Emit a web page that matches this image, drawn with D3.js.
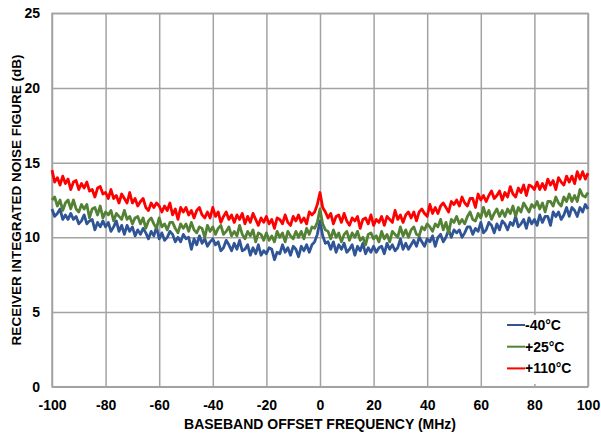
<!DOCTYPE html>
<html>
<head>
<meta charset="utf-8">
<script src="https://cdn.jsdelivr.net/npm/d3@7"></script>
<style>
  html, body { margin: 0; padding: 0; background: #fff; }
  svg { display: block; font-family: "Liberation Sans", Arial, sans-serif; font-weight: bold; }
</style>
</head>
<body>
<svg id="chart" width="601" height="434"></svg>
<script>
// Frequency axis: -100 .. 100 MHz, one sample per MHz
const freqStart = -100;
const freqStep = 1;

const xTicks = [-100, -80, -60, -40, -20, 0, 20, 40, 60, 80, 100];
const yTicks = [0, 5, 10, 15, 20, 25];

const seriesNames = ["-40°C", "+25°C", "+110°C"];
const seriesColors = ["#2f5597", "#548235", "#ff0000"];

// Integrated noise figure (dB), -40°C
const nfMinus40 = [
  11.9, 11.4, 11.6, 11.9, 11.2, 11.5, 11.2, 11.6, 11.2, 11.4,
  10.9, 11.1, 11.5, 10.9, 11.1, 11.2, 10.5, 11.0, 10.7, 11.1,
  10.7, 11.0, 10.4, 10.7, 11.1, 10.4, 10.8, 10.2, 10.8, 10.4,
  10.7, 10.1, 10.5, 10.2, 10.6, 10.3, 9.9, 10.4, 10.1, 10.7,
  9.9, 10.3, 9.8, 10.0, 10.4, 10.2, 9.7, 10.0, 9.7, 10.2,
  9.9, 10.0, 9.2, 9.9, 9.5, 10.1, 9.6, 9.9, 9.4, 9.7,
  9.9, 9.5, 9.7, 9.1, 9.3, 9.8, 9.5, 9.1, 9.6, 9.2,
  9.8, 9.1, 9.2, 9.5, 8.8, 9.3, 8.9, 9.5, 8.8, 9.1,
  8.9, 9.3, 9.2, 8.5, 9.0, 8.9, 9.5, 9.0, 9.3, 8.8,
  9.4, 9.2, 8.7, 9.4, 9.1, 9.5, 9.0, 9.5, 9.7, 10.2,
  11.1,
  10.1, 9.6, 9.7, 9.2, 9.7, 9.0, 9.5, 9.2, 9.6, 9.0,
  9.2, 9.5, 8.8, 9.4, 9.1, 9.6, 8.9, 9.3, 9.0, 9.4,
  9.0, 9.3, 9.4, 8.9, 9.6, 9.2, 9.5, 9.1, 9.3, 9.9,
  9.2, 9.6, 9.2, 9.5, 9.8, 9.4, 10.0, 9.7, 9.4, 9.9,
  9.7, 10.1, 9.4, 10.0, 10.2, 9.7, 10.0, 10.5, 10.0, 10.5,
  10.3, 10.5, 10.0, 10.3, 10.7, 10.7, 10.2, 10.6, 10.4, 11.0,
  10.3, 10.5, 11.0, 10.8, 10.3, 10.9, 10.5, 11.1, 10.9, 10.5,
  11.0, 10.8, 11.4, 10.7, 10.9, 11.2, 10.6, 11.3, 10.9, 11.2,
  10.8, 11.5, 11.0, 11.4, 11.4, 10.8, 11.7, 11.4, 11.7, 11.2,
  11.5, 12.0, 11.4, 12.0, 11.8, 11.4, 12.0, 11.7, 12.2, 11.9
];

// Integrated noise figure (dB), +25°C
const nfPlus25 = [
  12.5, 12.7, 12.1, 12.5, 11.8, 12.3, 12.5, 11.9, 12.5, 11.9,
  11.7, 12.2, 11.9, 12.2, 11.3, 11.9, 12.0, 11.5, 12.1, 11.3,
  11.7, 11.5, 11.8, 11.1, 11.6, 11.4, 11.2, 11.8, 11.2, 11.4,
  10.9, 11.3, 11.4, 10.9, 11.3, 10.6, 11.1, 11.3, 10.9, 10.6,
  11.3, 10.7, 10.9, 10.5, 11.0, 11.0, 10.6, 10.3, 10.9, 10.6,
  10.9, 10.4, 11.0, 10.5, 10.3, 10.7, 10.6, 10.0, 10.8, 10.4,
  10.7, 10.2, 10.6, 10.8, 10.2, 10.4, 10.7, 10.1, 10.4, 10.1,
  10.8, 10.2, 9.9, 10.4, 10.1, 10.5, 9.7, 10.3, 10.2, 9.8,
  10.3, 9.8, 10.1, 9.7, 10.4, 10.0, 10.3, 9.7, 10.4, 10.1,
  9.9, 10.4, 10.0, 10.4, 9.9, 10.6, 10.2, 10.7, 10.6, 11.0,
  11.9,
  10.9, 10.5, 10.4, 9.9, 10.5, 10.0, 10.3, 9.7, 10.2, 10.4,
  9.8, 10.3, 10.0, 10.4, 9.8, 10.0, 9.5, 10.2, 10.3, 9.9,
  10.1, 9.7, 10.4, 9.9, 10.2, 9.7, 10.4, 10.2, 10.0, 10.7,
  10.1, 10.5, 10.0, 10.5, 10.7, 10.2, 10.1, 10.7, 10.5, 10.9,
  10.7, 10.4, 10.9, 10.7, 11.2, 10.5, 11.0, 10.3, 11.2, 11.0,
  11.4, 10.9, 11.2, 10.9, 11.4, 11.7, 11.2, 11.1, 11.6, 11.3,
  12.0, 11.4, 11.8, 11.2, 11.6, 11.9, 11.4, 11.8, 11.4, 11.9,
  11.6, 12.1, 11.4, 12.0, 11.7, 12.3, 12.0, 11.7, 12.2, 12.0,
  12.4, 11.9, 12.3, 11.7, 12.4, 12.4, 12.1, 12.7, 12.3, 12.1,
  12.7, 12.4, 12.9, 12.4, 12.8, 12.4, 13.2, 12.8, 12.7, 13.0
];

// Integrated noise figure (dB), +110°C
const nfPlus110 = [
  14.5, 13.7, 14.0, 13.5, 14.1, 13.6, 13.9, 13.2, 13.7, 13.8,
  13.2, 13.6, 13.3, 13.7, 13.1, 13.2, 12.7, 13.3, 13.4, 12.9,
  13.0, 12.6, 13.2, 12.6, 12.8, 12.3, 12.9, 12.6, 12.3, 13.0,
  12.3, 12.6, 12.1, 12.4, 12.6, 12.0, 11.8, 12.3, 12.0, 12.3,
  12.1, 11.7, 12.1, 11.8, 12.3, 11.5, 11.9, 11.2, 12.0, 11.7,
  12.0, 11.5, 11.8, 11.3, 11.8, 12.0, 11.5, 11.3, 11.7, 11.3,
  12.0, 11.4, 11.7, 11.0, 11.4, 11.7, 11.2, 11.5, 11.0, 11.5,
  11.2, 11.6, 10.9, 11.4, 11.0, 11.6, 11.2, 10.8, 11.3, 11.0,
  11.4, 10.9, 11.2, 10.6, 11.3, 11.2, 10.9, 11.5, 11.0, 10.8,
  11.4, 11.1, 11.5, 11.0, 11.3, 10.9, 11.7, 11.5, 11.7, 12.2,
  13.0,
  12.0, 11.7, 11.3, 11.6, 10.9, 11.4, 11.5, 11.0, 11.6, 11.1,
  10.8, 11.3, 11.1, 11.4, 10.6, 11.2, 11.3, 10.9, 11.5, 10.8,
  11.2, 11.0, 11.4, 10.8, 11.4, 11.2, 11.0, 11.8, 11.2, 11.5,
  11.0, 11.5, 11.7, 11.3, 11.7, 11.1, 11.7, 11.9, 11.6, 11.4,
  12.2, 11.6, 12.0, 11.6, 12.1, 12.3, 12.0, 11.7, 12.4, 12.2,
  12.5, 12.1, 12.7, 12.3, 12.1, 12.6, 12.6, 12.0, 12.9, 12.5,
  12.8, 12.4, 12.8, 13.1, 12.6, 12.8, 13.1, 12.5, 13.0, 12.7,
  13.4, 12.9, 12.7, 13.3, 13.0, 13.5, 12.8, 13.5, 13.4, 13.2,
  13.7, 13.2, 13.6, 13.2, 13.9, 13.5, 13.8, 13.2, 14.0, 13.7,
  13.5, 14.1, 13.7, 14.1, 13.6, 14.4, 13.9, 14.4, 13.9, 14.3
];

const seriesValues = [nfMinus40, nfPlus25, nfPlus110];

const svg = d3.select("#chart");
const plot = { left: 52, right: 588, top: 13.3, bottom: 386.7 };

const x = d3.scaleLinear().domain([-100, 100]).range([plot.left, plot.right]);
const y = d3.scaleLinear().domain([0, 25]).range([plot.bottom, plot.top]);

const gridColor = "#a3a3a3";
const labelFont = "'Liberation Sans', Arial, sans-serif";

// Gridlines
svg.append("g")
  .attr("transform", `translate(0,${plot.bottom})`)
  .call(d3.axisBottom(x).tickValues(xTicks).tickSize(-(plot.bottom - plot.top)).tickFormat(""))
  .call(g => g.select(".domain").remove())
  .call(g => g.selectAll("line").attr("stroke", gridColor).attr("stroke-width", 1.5));

svg.append("g")
  .attr("transform", `translate(${plot.left},0)`)
  .call(d3.axisLeft(y).tickValues(yTicks).tickSize(-(plot.right - plot.left)).tickFormat(""))
  .call(g => g.select(".domain").remove())
  .call(g => g.selectAll("line").attr("stroke", gridColor).attr("stroke-width", 1.5));

// Plot frame
svg.append("rect")
  .attr("x", plot.left).attr("y", plot.top)
  .attr("width", plot.right - plot.left).attr("height", plot.bottom - plot.top)
  .attr("fill", "none").attr("stroke", gridColor).attr("stroke-width", 1.5);

// Tick labels (plain hyphen for negatives)
const xAxis = svg.append("g")
  .attr("transform", `translate(0,${plot.bottom})`)
  .call(d3.axisBottom(x).tickValues(xTicks).tickSize(0).tickPadding(13).tickFormat(d => String(d)));
xAxis.select(".domain").remove();
xAxis.selectAll("text").attr("font-size", 14).attr("font-weight", "bold")
  .attr("font-family", labelFont).attr("fill", "#000");

const yAxis = svg.append("g")
  .attr("transform", `translate(${plot.left},0)`)
  .call(d3.axisLeft(y).tickValues(yTicks).tickSize(0).tickPadding(12).tickFormat(d => String(d)));
yAxis.select(".domain").remove();
yAxis.selectAll("text").attr("font-size", 14).attr("font-weight", "bold")
  .attr("font-family", labelFont).attr("fill", "#000");

// Traces
const line = d3.line()
  .x((d, i) => x(freqStart + i * freqStep))
  .y(d => y(d));

svg.append("g")
  .selectAll("path")
  .data(seriesValues)
  .join("path")
  .attr("d", line)
  .attr("fill", "none")
  .attr("stroke", (d, i) => seriesColors[i])
  .attr("stroke-width", 2.8)
  .attr("stroke-linejoin", "round");

// Legend
const legend = svg.append("g");
legend.append("rect")
  .attr("x", 491).attr("y", 315).attr("width", 94).attr("height", 69)
  .attr("fill", "#fff");
const rows = legend.selectAll("g.row")
  .data(seriesNames)
  .join("g")
  .attr("class", "row")
  .attr("transform", (d, i) => `translate(507,${325 + i * 21.7})`);
rows.append("line")
  .attr("x1", 0).attr("x2", 18).attr("y1", 0).attr("y2", 0)
  .attr("stroke", (d, i) => seriesColors[i]).attr("stroke-width", 2);
rows.append("text")
  .attr("x", 18).attr("y", 0).attr("dy", "0.36em")
  .attr("font-size", 14).attr("fill", "#000")
  .text(d => d);

// Axis titles
svg.append("text")
  .attr("x", (plot.left + plot.right) / 2).attr("y", 424).attr("dy", "0.35em")
  .attr("text-anchor", "middle").attr("font-size", 14)
  .text("BASEBAND OFFSET FREQUENCY (MHz)");

svg.append("text")
  .attr("transform", `translate(16,${(plot.top + plot.bottom) / 2}) rotate(-90)`)
  .attr("dy", "0.35em")
  .attr("text-anchor", "middle").attr("font-size", 13.5)
  .text("RECEIVER INTEGRATED NOISE FIGURE (dB)");
</script>
</body>
</html>
